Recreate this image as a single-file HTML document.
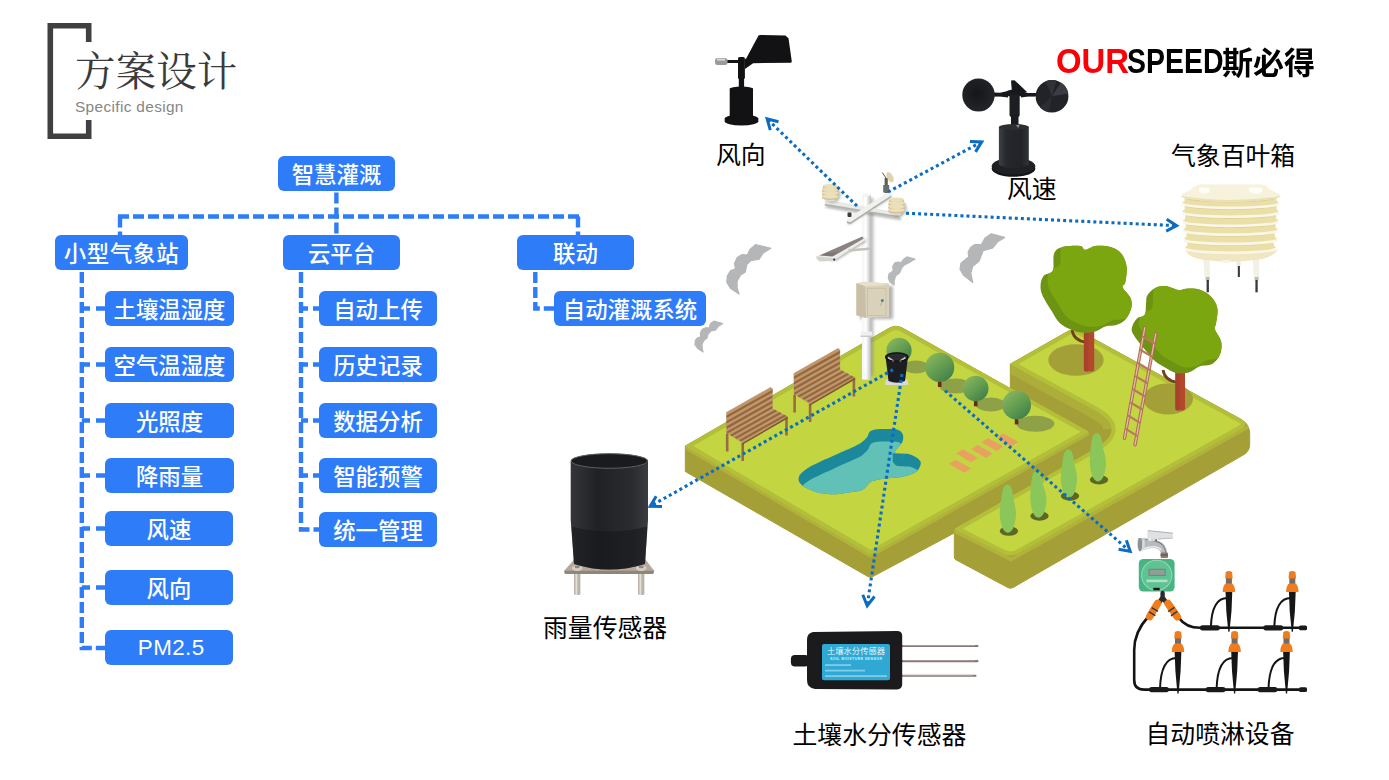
<!DOCTYPE html>
<html lang="zh-CN">
<head>
<meta charset="utf-8">
<title>方案设计</title>
<style>
html,body{margin:0;padding:0;background:#fff;}
body{width:1389px;height:780px;position:relative;overflow:hidden;font-family:"Liberation Sans","Noto Sans CJK SC",sans-serif;}
#art{position:absolute;left:0;top:0;width:1389px;height:780px;}
.bx{position:absolute;height:35px;line-height:40px;background:#2e7cf8;color:#fff;border-radius:6px;text-align:center;font-size:22.4px;font-weight:500;white-space:nowrap;}
.lb{position:absolute;color:#000;font-size:24.85px;line-height:30px;white-space:nowrap;font-weight:400;}
#ttl{position:absolute;left:75px;top:45.6px;font-family:"Liberation Serif","Noto Serif CJK SC",serif;font-size:40.6px;line-height:54px;color:#3a3a3a;font-weight:400;white-space:nowrap;letter-spacing:0px;}
#sub{position:absolute;left:75px;top:97px;letter-spacing:0.35px;font-size:15.4px;line-height:20px;color:#868686;white-space:nowrap;}
.lg{position:absolute;font-size:30px;line-height:40px;font-weight:700;color:#000;white-space:nowrap;transform-origin:0 0;}
</style>
</head>
<body>
<svg id="art" width="1389" height="780" viewBox="0 0 1389 780">
<!-- title bracket -->
<path d="M88.7 42 V25.8 H50.3 V136.2 H88.7 V120" fill="none" stroke="#404040" stroke-width="5.6"/>
<!-- flow-chart connectors -->
<g fill="none" stroke="#2e7cf8" stroke-width="4.4" stroke-dasharray="11 4">
<path d="M336.4 192.5 V235"/>
<path d="M118 216.5 H582"/>
<path d="M120 216.5 V235"/>
<path d="M578 216.5 V235"/>
<path d="M81.8 272 V648 H105"/>
<path d="M301 272 V529.5 H319"/>
<path d="M535.3 272 V308.5 H554"/>
</g>
<g fill="none" stroke="#2e7cf8" stroke-width="4.4">
<path d="M81.8 308.5 H90 M96 308.5 H106"/>
<path d="M81.8 364.5 H90 M96 364.5 H106"/>
<path d="M81.8 420.5 H90 M96 420.5 H106"/>
<path d="M81.8 475.5 H90 M96 475.5 H106"/>
<path d="M81.8 528.5 H90 M96 528.5 H106"/>
<path d="M81.8 587.5 H90 M96 587.5 H106"/>
<path d="M301 308.5 H308 M313 308.5 H320"/>
<path d="M301 364.5 H308 M313 364.5 H320"/>
<path d="M301 420.5 H308 M313 420.5 H320"/>
<path d="M301 475.5 H308 M313 475.5 H320"/>
</g>
<defs>
<linearGradient id="gTree" x1="0.15" y1="0.1" x2="0.85" y2="0.95"><stop offset="0" stop-color="#86b45e"/><stop offset="0.55" stop-color="#5f9a50"/><stop offset="1" stop-color="#3f7d48"/></linearGradient>
<linearGradient id="gCyl" x1="0" y1="0" x2="1" y2="0"><stop offset="0" stop-color="#34363a"/><stop offset="0.35" stop-color="#202124"/><stop offset="0.8" stop-color="#2a2c30"/><stop offset="1" stop-color="#3a3c40"/></linearGradient>
<linearGradient id="gPole" x1="0" y1="0" x2="1" y2="0"><stop offset="0" stop-color="#f4f4f4"/><stop offset="0.45" stop-color="#ffffff"/><stop offset="1" stop-color="#bdbdbd"/></linearGradient>
<linearGradient id="gCloud" x1="0" y1="0" x2="1" y2="0"><stop offset="0" stop-color="#a9abad"/><stop offset="0.6" stop-color="#d4d5d6"/><stop offset="1" stop-color="#ffffff"/></linearGradient>
<linearGradient id="gCream" x1="0" y1="0" x2="1" y2="0"><stop offset="0" stop-color="#f6f0d8"/><stop offset="0.5" stop-color="#efe2b4"/><stop offset="1" stop-color="#f3ebcb"/></linearGradient>
</defs>
<path d="M685.3,446.0 L888.9,328.3 Q895.8,324.3 902.8,328.2 L1010.3,388.5 L1010.3,364.1 L1066.8,331.9 Q1073.7,327.9 1080.7,331.7 L1240.9,419.2 Q1249.7,424.0 1249.7,434.0 L1249.7,444.3 Q1249.7,451.3 1243.6,454.8 L1013.1,587.5 Q1010.5,589.0 1007.9,587.6 L956.1,559.9 Q954.3,559.0 954.3,557.0 L954.3,533.0 L872.9,576.5 Q870.3,577.9 867.7,576.4 L685.3,471.5 Z" fill="#a59f37" stroke="#a59f37" stroke-width="1" stroke-linejoin="round"/>
<clipPath id="cS"><path d="M685.3,446.0 L888.9,328.3 Q895.8,324.3 902.8,328.2 L1010.3,388.5 L1010.3,364.1 L1066.8,331.9 Q1073.7,327.9 1080.7,331.7 L1240.9,419.2 Q1249.7,424.0 1249.7,434.0 L1249.7,444.3 Q1249.7,451.3 1243.6,454.8 L1013.1,587.5 Q1010.5,589.0 1007.9,587.6 L956.1,559.9 Q954.3,559.0 954.3,557.0 L954.3,533.0 L872.9,576.5 Q870.3,577.9 867.7,576.4 L685.3,471.5 Z"/></clipPath><g clip-path="url(#cS)">
<polygon points="685.3,446.0 870.6,554.4 870.6,557.9 685.3,449.5" fill="#b0b23b"/>
<polygon points="870.6,554.4 1088.9,431.8 1088.9,435.3 870.6,557.9" fill="#b0b23b"/>
<polygon points="954.3,529.0 1011.0,557.5 1011.0,561.5 954.3,533.0" fill="#b0b23b"/>
<polygon points="1011.0,557.5 1249.7,424.0 1249.7,428.0 1011.0,561.5" fill="#b0b23b"/>
<path d="M1010.3,364.1 L1094.1,409.8 Q1111.6,419.4 1111.7,429.2" fill="none" stroke="#adad3a" stroke-width="17" stroke-linecap="butt"/>
</g>
<clipPath id="cL"><path d="M1010.3,364.1 L1066.8,331.9 Q1073.7,327.9 1080.7,331.7 L1240.9,419.2 Q1249.7,424.0 1241.0,428.9 L1018.9,553.1 Q1011.0,557.5 1003.0,553.5 L956.1,529.9 Q954.3,529.0 956.0,528.0 L1094.5,448.9 Q1129.2,429.0 1094.1,409.8 Z"/></clipPath>
<path d="M1010.3,364.1 L1066.8,331.9 Q1073.7,327.9 1080.7,331.7 L1240.9,419.2 Q1249.7,424.0 1241.0,428.9 L1018.9,553.1 Q1011.0,557.5 1003.0,553.5 L956.1,529.9 Q954.3,529.0 956.0,528.0 L1094.5,448.9 Q1129.2,429.0 1094.1,409.8 Z" fill="#c3d642" stroke="#b3bf39" stroke-width="8" stroke-linejoin="round" clip-path="url(#cL)"/>
<clipPath id="cM"><path d="M685.3,446.0 L888.9,328.3 Q895.8,324.3 902.8,328.2 L1088.9,431.8 L870.6,554.4 Z"/></clipPath>
<path d="M685.3,446.0 L888.9,328.3 Q895.8,324.3 902.8,328.2 L1088.9,431.8 L870.6,554.4 Z" fill="#c3d642" stroke="#b3bf39" stroke-width="8" stroke-linejoin="round" clip-path="url(#cM)"/>
<clipPath id="cP"><path d="M798.6,479.2 C798.6,477.6 799.0,475.9 800.5,474.1 C802.0,472.3 804.6,470.3 807.6,468.3 C810.6,466.4 814.5,464.5 818.5,462.6 C822.4,460.6 827.0,458.7 831.3,456.8 C835.6,454.9 840.3,452.7 844.1,451.0 C847.9,449.3 851.4,448.0 854.4,446.5 C857.4,445.0 859.9,443.7 862.1,442.1 C864.2,440.4 865.9,438.6 867.2,436.9 C868.5,435.2 868.5,433.0 869.7,431.8 C871.0,430.6 872.1,430.0 874.9,429.5 C877.6,429.0 883.0,429.0 886.4,429.0 C889.8,428.9 893.0,428.9 895.4,429.2 C897.7,429.6 899.2,430.1 900.5,431.2 C901.8,432.2 902.8,433.8 903.1,435.6 C903.4,437.5 903.3,440.0 902.4,442.1 C901.6,444.1 899.2,446.1 897.9,447.8 C896.7,449.5 894.4,451.3 894.7,452.3 C895.1,453.3 897.4,453.3 899.9,453.6 C902.3,453.9 906.6,453.5 909.5,454.2 C912.4,455.0 915.3,456.7 917.2,458.1 C919.1,459.5 920.4,460.9 920.8,462.6 C921.1,464.3 920.1,466.6 919.1,468.3 C918.1,470.0 917.3,471.4 914.6,472.8 C911.9,474.2 906.9,475.8 903.1,476.7 C899.2,477.5 895.4,477.5 891.5,477.9 C887.7,478.4 883.4,478.6 880.0,479.2 C876.6,479.9 873.2,480.7 871.0,481.8 C868.9,482.9 868.7,484.3 867.2,485.6 C865.7,487.0 864.6,489.1 862.1,490.1 C859.5,491.2 855.6,491.4 851.8,492.1 C847.9,492.7 843.0,493.7 839.0,494.0 C834.9,494.3 831.3,494.3 827.4,494.0 C823.6,493.7 819.5,493.1 815.9,492.1 C812.3,491.0 808.2,489.0 805.6,487.6 C803.1,486.2 801.7,485.1 800.5,483.7 C799.3,482.3 798.6,480.8 798.6,479.2Z"/></clipPath>
<path d="M798.6,479.2 C798.6,477.6 799.0,475.9 800.5,474.1 C802.0,472.3 804.6,470.3 807.6,468.3 C810.6,466.4 814.5,464.5 818.5,462.6 C822.4,460.6 827.0,458.7 831.3,456.8 C835.6,454.9 840.3,452.7 844.1,451.0 C847.9,449.3 851.4,448.0 854.4,446.5 C857.4,445.0 859.9,443.7 862.1,442.1 C864.2,440.4 865.9,438.6 867.2,436.9 C868.5,435.2 868.5,433.0 869.7,431.8 C871.0,430.6 872.1,430.0 874.9,429.5 C877.6,429.0 883.0,429.0 886.4,429.0 C889.8,428.9 893.0,428.9 895.4,429.2 C897.7,429.6 899.2,430.1 900.5,431.2 C901.8,432.2 902.8,433.8 903.1,435.6 C903.4,437.5 903.3,440.0 902.4,442.1 C901.6,444.1 899.2,446.1 897.9,447.8 C896.7,449.5 894.4,451.3 894.7,452.3 C895.1,453.3 897.4,453.3 899.9,453.6 C902.3,453.9 906.6,453.5 909.5,454.2 C912.4,455.0 915.3,456.7 917.2,458.1 C919.1,459.5 920.4,460.9 920.8,462.6 C921.1,464.3 920.1,466.6 919.1,468.3 C918.1,470.0 917.3,471.4 914.6,472.8 C911.9,474.2 906.9,475.8 903.1,476.7 C899.2,477.5 895.4,477.5 891.5,477.9 C887.7,478.4 883.4,478.6 880.0,479.2 C876.6,479.9 873.2,480.7 871.0,481.8 C868.9,482.9 868.7,484.3 867.2,485.6 C865.7,487.0 864.6,489.1 862.1,490.1 C859.5,491.2 855.6,491.4 851.8,492.1 C847.9,492.7 843.0,493.7 839.0,494.0 C834.9,494.3 831.3,494.3 827.4,494.0 C823.6,493.7 819.5,493.1 815.9,492.1 C812.3,491.0 808.2,489.0 805.6,487.6 C803.1,486.2 801.7,485.1 800.5,483.7 C799.3,482.3 798.6,480.8 798.6,479.2Z" fill="#1b899b"/>
<g clip-path="url(#cP)"><path d="M798.6,479.2 C798.6,477.6 799.0,475.9 800.5,474.1 C802.0,472.3 804.6,470.3 807.6,468.3 C810.6,466.4 814.5,464.5 818.5,462.6 C822.4,460.6 827.0,458.7 831.3,456.8 C835.6,454.9 840.3,452.7 844.1,451.0 C847.9,449.3 851.4,448.0 854.4,446.5 C857.4,445.0 859.9,443.7 862.1,442.1 C864.2,440.4 865.9,438.6 867.2,436.9 C868.5,435.2 868.5,433.0 869.7,431.8 C871.0,430.6 872.1,430.0 874.9,429.5 C877.6,429.0 883.0,429.0 886.4,429.0 C889.8,428.9 893.0,428.9 895.4,429.2 C897.7,429.6 899.2,430.1 900.5,431.2 C901.8,432.2 902.8,433.8 903.1,435.6 C903.4,437.5 903.3,440.0 902.4,442.1 C901.6,444.1 899.2,446.1 897.9,447.8 C896.7,449.5 894.4,451.3 894.7,452.3 C895.1,453.3 897.4,453.3 899.9,453.6 C902.3,453.9 906.6,453.5 909.5,454.2 C912.4,455.0 915.3,456.7 917.2,458.1 C919.1,459.5 920.4,460.9 920.8,462.6 C921.1,464.3 920.1,466.6 919.1,468.3 C918.1,470.0 917.3,471.4 914.6,472.8 C911.9,474.2 906.9,475.8 903.1,476.7 C899.2,477.5 895.4,477.5 891.5,477.9 C887.7,478.4 883.4,478.6 880.0,479.2 C876.6,479.9 873.2,480.7 871.0,481.8 C868.9,482.9 868.7,484.3 867.2,485.6 C865.7,487.0 864.6,489.1 862.1,490.1 C859.5,491.2 855.6,491.4 851.8,492.1 C847.9,492.7 843.0,493.7 839.0,494.0 C834.9,494.3 831.3,494.3 827.4,494.0 C823.6,493.7 819.5,493.1 815.9,492.1 C812.3,491.0 808.2,489.0 805.6,487.6 C803.1,486.2 801.7,485.1 800.5,483.7 C799.3,482.3 798.6,480.8 798.6,479.2Z" fill="#62c1b6" transform="translate(0.8,12.6)"/><polygon points="892.6,453.3 903.7,454.0 896.0,465.4 892.8,461.9" fill="#1b899b"/></g>
<polygon points="948.8,463.8 955.6,459.7 971.0,468.5 964.4,472.8" fill="#e8a15e"/>
<polygon points="956.2,453.6 962.8,449.3 978.0,457.7 971.0,462.3" fill="#e8a15e"/>
<polygon points="971.0,449.0 977.7,444.9 992.8,453.6 985.9,458.0" fill="#e8a15e"/>
<polygon points="981.3,442.3 988.3,438.2 1003.3,446.4 996.7,451.0" fill="#e8a15e"/>
<polygon points="996.7,437.7 1003.3,433.4 1018.4,442.0 1011.5,446.4" fill="#e8a15e"/>
<ellipse cx="916" cy="367" rx="13" ry="6.5" fill="#8fa146"/>
<ellipse cx="955.4" cy="386" rx="16" ry="7.5" fill="#8fa146"/>
<ellipse cx="990.8" cy="404.6" rx="15" ry="7" fill="#8fa146"/>
<ellipse cx="1035.4" cy="423.8" rx="19" ry="8" fill="#8fa146"/>
<ellipse cx="1076" cy="360" rx="27.7" ry="15.8" fill="#a3a038"/>
<ellipse cx="1168" cy="398.9" rx="25" ry="15.5" fill="#a3a038"/>
<g transform="translate(67.4,-39)"><rect x="725.9000000000001" y="434" width="2.6" height="17.5" fill="#9a6a42"/><rect x="741.4000000000001" y="443" width="2.6" height="18" fill="#9a6a42"/><rect x="785.2" y="417" width="2.6" height="18.5" fill="#9a6a42"/><polygon points="726.2,412.3 770.8,387 772.8,389 772.8,408.5 727.7,433.8 726.2,432" fill="#c0966a"/><polygon points="726.6,415.5 772.4,389.8 772.4,392.4 726.6,418.1" fill="#93683f"/><polygon points="726.6,420.9 772.4,395.2 772.4,397.8 726.6,423.5" fill="#93683f"/><polygon points="726.6,426.3 772.4,400.6 772.4,403.2 726.6,428.9" fill="#93683f"/><polygon points="726.6,431.7 772.4,406.0 772.4,408.6 726.6,434.3" fill="#93683f"/><polygon points="727.7,433.8 772.8,408.5 787.7,416.6 742.3,443" fill="#c0966a"/><polygon points="729.9,435.0 775.0,409.7 777.2,410.9 732.1,436.2" fill="#93683f"/><polygon points="734.5,437.5 779.6,412.2 781.8,413.4 736.7,438.7" fill="#93683f"/><polygon points="739.1,440.0 784.2,414.7 786.4,415.9 741.3,441.2" fill="#93683f"/><polygon points="742.3,443 787.7,416.6 787.7,418.4 742.3,444.8" fill="#7d5533"/></g>
<g transform="translate(0,0)"><rect x="725.9000000000001" y="434" width="2.6" height="17.5" fill="#9a6a42"/><rect x="741.4000000000001" y="443" width="2.6" height="18" fill="#9a6a42"/><rect x="785.2" y="417" width="2.6" height="18.5" fill="#9a6a42"/><polygon points="726.2,412.3 770.8,387 772.8,389 772.8,408.5 727.7,433.8 726.2,432" fill="#c0966a"/><polygon points="726.6,415.5 772.4,389.8 772.4,392.4 726.6,418.1" fill="#93683f"/><polygon points="726.6,420.9 772.4,395.2 772.4,397.8 726.6,423.5" fill="#93683f"/><polygon points="726.6,426.3 772.4,400.6 772.4,403.2 726.6,428.9" fill="#93683f"/><polygon points="726.6,431.7 772.4,406.0 772.4,408.6 726.6,434.3" fill="#93683f"/><polygon points="727.7,433.8 772.8,408.5 787.7,416.6 742.3,443" fill="#c0966a"/><polygon points="729.9,435.0 775.0,409.7 777.2,410.9 732.1,436.2" fill="#93683f"/><polygon points="734.5,437.5 779.6,412.2 781.8,413.4 736.7,438.7" fill="#93683f"/><polygon points="739.1,440.0 784.2,414.7 786.4,415.9 741.3,441.2" fill="#93683f"/><polygon points="742.3,443 787.7,416.6 787.7,418.4 742.3,444.8" fill="#7d5533"/></g>
<circle cx="899" cy="350.4" r="12.6" fill="url(#gTree)"/>
<filter id="fB" x="-30%" y="-30%" width="160%" height="160%"><feGaussianBlur stdDeviation="1.6"/></filter>
<filter id="fB2" x="-30%" y="-30%" width="160%" height="160%"><feGaussianBlur stdDeviation="0.9"/></filter>
<g filter="url(#fB)" opacity="0.55"><rect x="866" y="198" width="7.5" height="178" fill="#8a8a8a"/><rect x="860" y="286" width="33" height="33" fill="#777"/></g>
<rect x="862" y="194.6" width="8.8" height="185" fill="url(#gPole)"/>
<ellipse cx="866.4" cy="194.8" rx="4.4" ry="1.6" fill="#f4f4f4"/>
<rect x="860.6" y="331.5" width="11.6" height="5.5" rx="1.5" fill="#efefef"/><rect x="860.6" y="335.6" width="11.6" height="1.4" fill="#c9c9c9"/>
<polygon points="856.4,283.2 864,281.8 889,283.6 889,316.8 866,318 856.4,315.3" fill="#d9d1ba"/>
<polygon points="856.4,283.2 864,281.8 889,283.6 881,285.6 865,286.2" fill="#e7e0cd"/>
<polygon points="856.4,283.2 865,286.2 866,318 856.4,315.3" fill="#c9bfa6"/>
<rect x="867.5" y="288.3" width="18.5" height="27.2" fill="none" stroke="#c7bea6" stroke-width="0.8"/>
<circle cx="882.3" cy="300.6" r="1.5" fill="#3f86a8"/><path d="M882,302 L880.5,306" stroke="#b9b09a" stroke-width="1"/>
<g filter="url(#fB2)" opacity="0.5"><polygon points="818,259 836,261 866,242 866,239" fill="#777"/></g>
<polygon points="816.3,256.3 863,235.8 866.3,239.6 835.5,259.2 819.5,261.2" fill="#ecece8"/>
<polygon points="819.5,255.6 862.2,236.8 863.6,238.4 832.5,256.6" fill="#7d7673"/>
<polygon points="826,253 862.2,236.8 863.6,238.4 840,252.2" fill="#938c88" opacity="0.6"/>
<polygon points="816.3,256.3 835.2,258.4 835.5,260.6 819.5,261.6 816.3,258.6" fill="#d4d4ce"/>
<circle cx="834.2" cy="259.6" r="1.1" fill="#333"/>
<polygon points="848,249.2 872,247.2 872,249.8 850,251.8" fill="#c4c4bc"/>
<g filter="url(#fB2)" opacity="0.45"><path d="M826,206 L901,218.5 M848,223.5 L891,196" stroke="#666" stroke-width="3.5" fill="none"/></g>
<polygon points="824.8,201.2 827,199.8 902.3,213.2 902.3,216.6 899.5,217.6 824.8,205" fill="#e9e9e5"/>
<polygon points="824.8,203.8 899.5,216.2 899.5,217.8 824.8,205.6" fill="#b2b2ac"/>
<polygon points="847,219 888,192 891.2,193 891.2,195.8 850.5,222.6 847,221.6" fill="#f0f0ec"/>
<polygon points="847,221.2 850.5,222.2 891.2,195.4 891.2,197 850.5,224 847,223" fill="#aeaea8"/>
<g filter="url(#fB2)" opacity="0.4"><ellipse cx="832.3" cy="195" rx="8.5" ry="8" fill="#666"/></g><rect x="825.8" y="197" width="9" height="4.5" fill="#dcdcd6"/><rect x="822.6999999999999" y="186.5" width="15.2" height="11" rx="3" fill="#cdb988"/><ellipse cx="830.3" cy="187.0" rx="7.7" ry="2.6" fill="#d2bf90"/><ellipse cx="830.3" cy="186.1" rx="7.500000000000001" ry="2.1" fill="#ebdfb9"/><ellipse cx="830.3" cy="190.5" rx="8.5" ry="2.6" fill="#d2bf90"/><ellipse cx="830.3" cy="189.6" rx="8.3" ry="2.1" fill="#ebdfb9"/><ellipse cx="830.3" cy="194.0" rx="8.5" ry="2.6" fill="#d2bf90"/><ellipse cx="830.3" cy="193.1" rx="8.3" ry="2.1" fill="#ebdfb9"/><ellipse cx="830.3" cy="197.5" rx="8.5" ry="2.6" fill="#d2bf90"/><ellipse cx="830.3" cy="196.6" rx="8.3" ry="2.1" fill="#ebdfb9"/>
<g filter="url(#fB2)" opacity="0.4"><ellipse cx="898.5" cy="208.5" rx="8.5" ry="8" fill="#666"/></g><rect x="892.0" y="210.5" width="9" height="4.5" fill="#dcdcd6"/><rect x="888.9" y="200.0" width="15.2" height="11" rx="3" fill="#cdb988"/><ellipse cx="896.5" cy="200.5" rx="7.7" ry="2.6" fill="#d2bf90"/><ellipse cx="896.5" cy="199.6" rx="7.500000000000001" ry="2.1" fill="#ebdfb9"/><ellipse cx="896.5" cy="204.0" rx="8.5" ry="2.6" fill="#d2bf90"/><ellipse cx="896.5" cy="203.1" rx="8.3" ry="2.1" fill="#ebdfb9"/><ellipse cx="896.5" cy="207.5" rx="8.5" ry="2.6" fill="#d2bf90"/><ellipse cx="896.5" cy="206.6" rx="8.3" ry="2.1" fill="#ebdfb9"/><ellipse cx="896.5" cy="211.0" rx="8.5" ry="2.6" fill="#d2bf90"/><ellipse cx="896.5" cy="210.1" rx="8.3" ry="2.1" fill="#ebdfb9"/>
<rect x="884.6" y="178" width="3.2" height="15" fill="#5b5f58"/><rect x="883.2" y="185" width="6" height="7.5" fill="#6a6e66"/>
<ellipse cx="890" cy="177.2" rx="3" ry="5.6" transform="rotate(-28 890 177.2)" fill="#e0d2ac"/>
<path d="M882.3 172.5 L887 179.5" stroke="#555" stroke-width="1"/>
<rect x="847.5" y="212.5" width="4" height="4.5" rx="1" fill="#3c3c3c"/>
<g transform="translate(0,1)">
<polygon points="886,378.5 907.5,378.5 908.5,384 885,384" fill="#d9d9dc"/>
<path d="M885.6,356 L888.5,380 Q897,383.5 905,380 L908,356 Z" fill="#1d1e21"/>
<ellipse cx="896.8" cy="356" rx="11.2" ry="4.2" fill="#2a2b2f"/>
<path d="M888,356.5 L894,360.5 M905.5,356.5 L899.5,360.5" stroke="#c9c9cc" stroke-width="1.6"/>
<ellipse cx="896.8" cy="356" rx="11.2" ry="4.2" fill="none" stroke="#0e0e10" stroke-width="1.2"/>
</g>
<rect x="937.9000000000001" y="380.0" width="3.6" height="7" fill="#6b2812"/><circle cx="939.7" cy="367.4" r="14.6" fill="url(#gTree)"/>
<rect x="973.9000000000001" y="399.3" width="3.6" height="7" fill="#6b2812"/><circle cx="975.7" cy="388.5" r="12.8" fill="url(#gTree)"/>
<rect x="1014.8000000000001" y="417.4" width="3.6" height="7" fill="#6b2812"/><circle cx="1016.6" cy="405" r="14.4" fill="url(#gTree)"/>
<path d="M1072,330 Q1074,341 1086,342" fill="none" stroke="#74401c" stroke-width="2.8"/><rect x="1083.9" y="325" width="10.3" height="46.6" rx="2" fill="#b3482b"/><rect x="1083.9" y="325" width="4.6" height="46.6" rx="2" fill="#a8422a"/><path d="M1054.0,253.7 C1055.6,249.8 1057.5,248.5 1061.8,247.2 C1066.1,245.9 1076.1,245.5 1080.0,245.9 C1083.9,246.4 1082.6,249.8 1085.2,249.8 C1087.7,249.8 1091.2,246.4 1095.5,245.9 C1099.8,245.5 1106.8,245.9 1111.1,247.2 C1115.4,248.5 1118.8,250.5 1121.4,253.7 C1124.0,256.9 1126.0,261.9 1126.6,266.7 C1127.3,271.4 1126.0,278.8 1125.3,282.2 C1124.7,285.7 1121.9,284.8 1122.7,287.4 C1123.6,290.0 1129.1,294.3 1130.5,297.8 C1131.9,301.2 1132.2,304.5 1131.3,308.1 C1130.4,311.8 1127.8,317.0 1125.3,319.8 C1122.8,322.6 1119.5,323.9 1116.3,325.0 C1113.0,326.1 1109.3,325.2 1105.9,326.3 C1102.4,327.4 1099.4,330.4 1095.5,331.5 C1091.6,332.5 1086.9,333.2 1082.6,332.8 C1078.2,332.3 1073.5,330.6 1069.6,328.9 C1065.7,327.1 1062.3,325.4 1059.2,322.4 C1056.2,319.4 1054.3,315.3 1051.5,310.7 C1048.6,306.2 1044.2,299.5 1042.4,295.2 C1040.6,290.8 1040.4,288.0 1040.6,284.8 C1040.8,281.6 1041.7,278.1 1043.7,275.7 C1045.7,273.4 1051.0,274.2 1052.8,270.5 C1054.5,266.9 1052.5,257.6 1054.0,253.7Z" fill="#6c9412"/><clipPath id="c812"><path d="M1054.0,253.7 C1055.6,249.8 1057.5,248.5 1061.8,247.2 C1066.1,245.9 1076.1,245.5 1080.0,245.9 C1083.9,246.4 1082.6,249.8 1085.2,249.8 C1087.7,249.8 1091.2,246.4 1095.5,245.9 C1099.8,245.5 1106.8,245.9 1111.1,247.2 C1115.4,248.5 1118.8,250.5 1121.4,253.7 C1124.0,256.9 1126.0,261.9 1126.6,266.7 C1127.3,271.4 1126.0,278.8 1125.3,282.2 C1124.7,285.7 1121.9,284.8 1122.7,287.4 C1123.6,290.0 1129.1,294.3 1130.5,297.8 C1131.9,301.2 1132.2,304.5 1131.3,308.1 C1130.4,311.8 1127.8,317.0 1125.3,319.8 C1122.8,322.6 1119.5,323.9 1116.3,325.0 C1113.0,326.1 1109.3,325.2 1105.9,326.3 C1102.4,327.4 1099.4,330.4 1095.5,331.5 C1091.6,332.5 1086.9,333.2 1082.6,332.8 C1078.2,332.3 1073.5,330.6 1069.6,328.9 C1065.7,327.1 1062.3,325.4 1059.2,322.4 C1056.2,319.4 1054.3,315.3 1051.5,310.7 C1048.6,306.2 1044.2,299.5 1042.4,295.2 C1040.6,290.8 1040.4,288.0 1040.6,284.8 C1040.8,281.6 1041.7,278.1 1043.7,275.7 C1045.7,273.4 1051.0,274.2 1052.8,270.5 C1054.5,266.9 1052.5,257.6 1054.0,253.7Z"/></clipPath><g clip-path="url(#c812)"><path d="M1054.0,253.7 C1055.6,249.8 1057.5,248.5 1061.8,247.2 C1066.1,245.9 1076.1,245.5 1080.0,245.9 C1083.9,246.4 1082.6,249.8 1085.2,249.8 C1087.7,249.8 1091.2,246.4 1095.5,245.9 C1099.8,245.5 1106.8,245.9 1111.1,247.2 C1115.4,248.5 1118.8,250.5 1121.4,253.7 C1124.0,256.9 1126.0,261.9 1126.6,266.7 C1127.3,271.4 1126.0,278.8 1125.3,282.2 C1124.7,285.7 1121.9,284.8 1122.7,287.4 C1123.6,290.0 1129.1,294.3 1130.5,297.8 C1131.9,301.2 1132.2,304.5 1131.3,308.1 C1130.4,311.8 1127.8,317.0 1125.3,319.8 C1122.8,322.6 1119.5,323.9 1116.3,325.0 C1113.0,326.1 1109.3,325.2 1105.9,326.3 C1102.4,327.4 1099.4,330.4 1095.5,331.5 C1091.6,332.5 1086.9,333.2 1082.6,332.8 C1078.2,332.3 1073.5,330.6 1069.6,328.9 C1065.7,327.1 1062.3,325.4 1059.2,322.4 C1056.2,319.4 1054.3,315.3 1051.5,310.7 C1048.6,306.2 1044.2,299.5 1042.4,295.2 C1040.6,290.8 1040.4,288.0 1040.6,284.8 C1040.8,281.6 1041.7,278.1 1043.7,275.7 C1045.7,273.4 1051.0,274.2 1052.8,270.5 C1054.5,266.9 1052.5,257.6 1054.0,253.7Z" fill="#7ba60f" transform="translate(7,-6)"/></g>
<path d="M1163,370 Q1165,381 1177,382" fill="none" stroke="#74401c" stroke-width="2.8"/><rect x="1175.4" y="365" width="9.6" height="45.5" rx="2" fill="#b3482b"/><rect x="1175.4" y="365" width="4.3" height="45.5" rx="2" fill="#a8422a"/><path d="M1147.4,295.2 C1148.9,292.7 1152.1,289.4 1155.1,287.9 C1158.2,286.4 1161.6,285.8 1165.5,286.1 C1169.4,286.4 1175.0,289.6 1178.5,290.0 C1181.9,290.4 1182.8,288.8 1186.2,288.7 C1189.7,288.6 1195.1,288.2 1199.2,289.5 C1203.3,290.8 1207.8,293.4 1210.9,296.5 C1213.9,299.6 1216.5,303.6 1217.3,308.1 C1218.2,312.7 1216.5,320.2 1216.0,323.7 C1215.6,327.1 1213.9,325.8 1214.8,328.9 C1215.6,331.9 1220.4,337.5 1221.2,341.8 C1222.1,346.1 1221.4,351.1 1219.9,354.8 C1218.4,358.5 1215.6,361.9 1212.2,363.9 C1208.7,365.8 1203.1,365.0 1199.2,366.4 C1195.3,367.9 1192.7,371.3 1188.8,372.4 C1184.9,373.5 1179.8,373.7 1175.9,372.9 C1172.0,372.2 1169.0,369.7 1165.5,367.7 C1162.0,365.8 1158.6,364.3 1155.1,361.3 C1151.7,358.2 1148.4,354.1 1144.8,349.6 C1141.1,345.1 1135.2,337.9 1133.1,334.0 C1131.0,330.2 1131.7,328.9 1132.3,326.3 C1133.0,323.7 1134.9,320.4 1137.0,318.5 C1139.1,316.6 1143.3,317.2 1144.8,314.6 C1146.3,312.0 1145.6,306.2 1146.1,302.9 C1146.5,299.7 1145.8,297.7 1147.4,295.2Z" fill="#6c9412"/><clipPath id="c6014"><path d="M1147.4,295.2 C1148.9,292.7 1152.1,289.4 1155.1,287.9 C1158.2,286.4 1161.6,285.8 1165.5,286.1 C1169.4,286.4 1175.0,289.6 1178.5,290.0 C1181.9,290.4 1182.8,288.8 1186.2,288.7 C1189.7,288.6 1195.1,288.2 1199.2,289.5 C1203.3,290.8 1207.8,293.4 1210.9,296.5 C1213.9,299.6 1216.5,303.6 1217.3,308.1 C1218.2,312.7 1216.5,320.2 1216.0,323.7 C1215.6,327.1 1213.9,325.8 1214.8,328.9 C1215.6,331.9 1220.4,337.5 1221.2,341.8 C1222.1,346.1 1221.4,351.1 1219.9,354.8 C1218.4,358.5 1215.6,361.9 1212.2,363.9 C1208.7,365.8 1203.1,365.0 1199.2,366.4 C1195.3,367.9 1192.7,371.3 1188.8,372.4 C1184.9,373.5 1179.8,373.7 1175.9,372.9 C1172.0,372.2 1169.0,369.7 1165.5,367.7 C1162.0,365.8 1158.6,364.3 1155.1,361.3 C1151.7,358.2 1148.4,354.1 1144.8,349.6 C1141.1,345.1 1135.2,337.9 1133.1,334.0 C1131.0,330.2 1131.7,328.9 1132.3,326.3 C1133.0,323.7 1134.9,320.4 1137.0,318.5 C1139.1,316.6 1143.3,317.2 1144.8,314.6 C1146.3,312.0 1145.6,306.2 1146.1,302.9 C1146.5,299.7 1145.8,297.7 1147.4,295.2Z"/></clipPath><g clip-path="url(#c6014)"><path d="M1147.4,295.2 C1148.9,292.7 1152.1,289.4 1155.1,287.9 C1158.2,286.4 1161.6,285.8 1165.5,286.1 C1169.4,286.4 1175.0,289.6 1178.5,290.0 C1181.9,290.4 1182.8,288.8 1186.2,288.7 C1189.7,288.6 1195.1,288.2 1199.2,289.5 C1203.3,290.8 1207.8,293.4 1210.9,296.5 C1213.9,299.6 1216.5,303.6 1217.3,308.1 C1218.2,312.7 1216.5,320.2 1216.0,323.7 C1215.6,327.1 1213.9,325.8 1214.8,328.9 C1215.6,331.9 1220.4,337.5 1221.2,341.8 C1222.1,346.1 1221.4,351.1 1219.9,354.8 C1218.4,358.5 1215.6,361.9 1212.2,363.9 C1208.7,365.8 1203.1,365.0 1199.2,366.4 C1195.3,367.9 1192.7,371.3 1188.8,372.4 C1184.9,373.5 1179.8,373.7 1175.9,372.9 C1172.0,372.2 1169.0,369.7 1165.5,367.7 C1162.0,365.8 1158.6,364.3 1155.1,361.3 C1151.7,358.2 1148.4,354.1 1144.8,349.6 C1141.1,345.1 1135.2,337.9 1133.1,334.0 C1131.0,330.2 1131.7,328.9 1132.3,326.3 C1133.0,323.7 1134.9,320.4 1137.0,318.5 C1139.1,316.6 1143.3,317.2 1144.8,314.6 C1146.3,312.0 1145.6,306.2 1146.1,302.9 C1146.5,299.7 1145.8,297.7 1147.4,295.2Z" fill="#7ba60f" transform="translate(7,-6)"/></g>
<g stroke-linecap="round"><path d="M1144.8,327.6 L1124.5,438.3 M1155.7,334 L1135,444.8" stroke="#ad6c55" stroke-width="3.4"/><path d="M1144.8,327.6 L1124.5,438.3 M1155.7,334 L1135,444.8" stroke="#e8bca6" stroke-width="1.3"/>
<path d="M1143.1,336.8 L1154.0,343.2" stroke="#b97860" stroke-width="2.2"/>
<path d="M1140.7,350.0 L1151.5,356.4" stroke="#b97860" stroke-width="2.2"/>
<path d="M1138.3,363.2 L1149.0,369.6" stroke="#b97860" stroke-width="2.2"/>
<path d="M1135.9,376.4 L1146.6,382.8" stroke="#b97860" stroke-width="2.2"/>
<path d="M1133.4,389.5 L1144.1,396.0" stroke="#b97860" stroke-width="2.2"/>
<path d="M1131.0,402.7 L1141.7,409.2" stroke="#b97860" stroke-width="2.2"/>
<path d="M1128.6,415.9 L1139.2,422.4" stroke="#b97860" stroke-width="2.2"/>
<path d="M1126.2,429.1 L1136.7,435.6" stroke="#b97860" stroke-width="2.2"/>
</g>
<ellipse cx="1099" cy="479.8" rx="9.2" ry="4.7" fill="#5e6625"/><path d="M1096.8,433.2 C1101.0,433.2 1102.0,439.7 1102.8,447.7 C1106.3,457.7 1106.8999999999999,463.8 1104.8999999999999,471.8 C1103.7,477.3 1101.5,481.40000000000003 1098,481.40000000000003 C1094.5,481.40000000000003 1092.3,477.3 1091.1000000000001,471.8 C1089.1000000000001,463.8 1089.7,457.7 1090.8,447.7 C1091.6,439.7 1092.6,433.2 1096.8,433.2Z" fill="#8bc65a"/>
<ellipse cx="1070" cy="496" rx="9.2" ry="4.7" fill="#5e6625"/><path d="M1068.3,449.5 C1072.5,449.5 1073.5,456 1074.3,464 C1077.3,474 1077.8999999999999,480 1075.8999999999999,488 C1074.7,493.5 1072.5,497.6 1069,497.6 C1065.5,497.6 1063.3,493.5 1062.1000000000001,488 C1060.1000000000001,480 1060.7,474 1062.3,464 C1063.1,456 1064.1,449.5 1068.3,449.5Z" fill="#8bc65a"/>
<ellipse cx="1039.5" cy="516" rx="9.2" ry="4.7" fill="#5e6625"/><path d="M1037,470.2 C1041.2,470.2 1042.2,476.7 1043,484.7 C1046.8,494.7 1047.3999999999999,500 1045.3999999999999,508 C1044.2,513.5 1042.0,517.6 1038.5,517.6 C1035.0,517.6 1032.8,513.5 1031.6000000000001,508 C1029.6000000000001,500 1030.2,494.7 1031,484.7 C1031.8,476.7 1032.8,470.2 1037,470.2Z" fill="#8bc65a"/>
<ellipse cx="1008.9" cy="531.1" rx="9.2" ry="4.7" fill="#5e6625"/><path d="M1007.4,484.5 C1011.6,484.5 1012.6,491 1013.4,499 C1016.1999999999999,509 1016.8,515.1 1014.8,523.1 C1013.5999999999999,528.6 1011.4,532.7 1007.9,532.7 C1004.4,532.7 1002.2,528.6 1001.0,523.1 C999.0,515.1 999.6,509 1001.4,499 C1002.1999999999999,491 1003.1999999999999,484.5 1007.4,484.5Z" fill="#8bc65a"/>
<polygon points="755.5,244.7 770.9,248.3 763.2,252.9 759.1,259.1 750.9,260.6 746.8,264.7 745.3,271.9 740.6,275.0 737.1,281.2 737.1,288.3 739.1,294.0 730.4,288.3 726.8,282.2 727.3,276.0 730.4,270.9 735.5,268.8 734.5,263.7 737.1,257.6 742.2,254.5 747.3,255.0 749.9,249.4" fill="#b4b6b7" stroke="#b4b6b7" stroke-width="1.2" stroke-linejoin="round"/>
<polygon points="906.9,256.9 915.1,259.0 910.0,262.1 904.9,264.6 901.8,267.7 899.7,272.8 895.6,275.9 894.1,281.0 894.1,285.1 890.0,282.1 888.3,277.9 889.0,273.8 892.1,271.8 893.1,270.8 892.8,266.2 895.1,262.6 899.2,262.1 900.8,263.1 903.8,259.0" fill="#b6b9ba" stroke="#b6b9ba" stroke-width="1.2" stroke-linejoin="round"/>
<polygon points="991.3,233.8 1004.6,237.4 997.4,242.1 992.8,247.9 983.1,250.8 979.0,261.2 972.8,266.2 970.8,273.3 972.8,282.6 963.6,275.4 960.0,269.2 961.0,263.1 967.2,257.9 968.7,257.4 968.2,251.8 970.8,247.2 974.9,244.6 981.5,244.6 985.1,237.9" fill="#b4b6b7" stroke="#b4b6b7" stroke-width="1.2" stroke-linejoin="round"/>
<polygon points="713.8,321.2 722.7,323.5 718.1,326.5 715.8,330.0 711.2,330.8 708.1,333.8 706.9,338.1 703.8,340.4 701.9,344.6 702.3,349.2 703.1,351.9 697.7,348.5 695.0,344.6 695.4,340.4 697.3,338.1 700.8,336.9 700.4,333.1 702.3,329.2 705.8,327.7 709.2,328.1 710.4,323.8" fill="#b4b6b7" stroke="#b4b6b7" stroke-width="1.2" stroke-linejoin="round"/>
<g fill="#121214">
<polygon points="758.5,35.4 760,34.9 785.4,35.6 788.5,38.2 791.8,61.5 791.1,62.8 753.1,63.2 744.9,68.9 744.9,59.2 746.2,58.5"/>
<rect x="738" y="56.9" width="6.9" height="22" rx="1.5"/><rect x="738.8" y="76" width="5.3" height="13"/>
<rect x="724" y="60" width="15" height="3"/>
<rect x="729.7" y="88.5" width="23.3" height="31"/>
<ellipse cx="741.4" cy="88.7" rx="11.65" ry="2.2"/>
<ellipse cx="741.5" cy="119" rx="17" ry="4.6"/><ellipse cx="741.5" cy="121" rx="17" ry="4.6"/>
</g>
<rect x="715" y="58" width="12.5" height="7" rx="2.5" fill="#9b9b98"/><rect x="717" y="58.6" width="8" height="2" fill="#d8d8d4"/>
<linearGradient id="gBody" x1="0" y1="0" x2="1" y2="0"><stop offset="0" stop-color="#3d4047"/><stop offset="0.25" stop-color="#26282d"/><stop offset="0.75" stop-color="#212327"/><stop offset="1" stop-color="#30333a"/></linearGradient>
<radialGradient id="gCupL" cx="0.45" cy="0.45" r="0.6"><stop offset="0" stop-color="#151618"/><stop offset="1" stop-color="#24262b"/></radialGradient>
<g fill="#17181b">
<polygon points="1011,80.5 1014.5,80.2 1027,92 1012,93"/>
<rect x="994" y="93" width="42" height="3.2"/>
<path d="M994,92.5 L1000,92.8 L1008,91 L1008,97.5 L1000,96.6 L994,96.5Z M1035,93 L1028,93 L1021,91 L1021,97.5 L1028,96.4 L1035,96.6Z"/>
<rect x="1009.5" y="90" width="10.2" height="27" rx="2" fill="#1d1e22"/><rect x="1011" y="115" width="7.5" height="12" fill="#1a1b1e"/>
<ellipse cx="1014.5" cy="92" rx="8" ry="2.6"/>
</g>
<ellipse cx="978.5" cy="95" rx="16.2" ry="16.5" fill="url(#gCupL)"/>
<ellipse cx="1052" cy="96.2" rx="16.4" ry="16.3" fill="#222328"/>
<path d="M1052,96.2 L1068.3,93.5 A16.4,16.3 0 0 0 1061,82.6Z" fill="#3a3c42"/><path d="M1052,96.2 L1045.5,81.3 A16.4,16.3 0 0 1 1056.5,80.5Z" fill="#303237"/><path d="M1052,96.2 L1040,107.3 A16.4,16.3 0 0 0 1049,112.2Z" fill="#2b2d32"/>
<ellipse cx="1013.5" cy="168.6" rx="21.8" ry="8.2" fill="#131417"/>
<ellipse cx="1013.5" cy="166.2" rx="21.8" ry="8.4" fill="#1e2024"/>
<path d="M998.9,127 L998.9,165 Q1013.8,172 1028.8,165 L1028.8,127 Z" fill="url(#gBody)"/>
<ellipse cx="1013.85" cy="127" rx="14.95" ry="3" fill="#2c2e34"/>
<path d="M1016,125 l2.2,3 l1.4,-3z" fill="#8e9096"/>
<polygon points="1203,256 1209.2,256 1210.2,277.6 1204.6,277.6" fill="#f3f0e4"/><polygon points="1252.6,256 1259,256 1259.4,277.6 1253.8,277.6" fill="#f3f0e4"/>
<rect x="1205.6" y="277" width="4" height="3.4" fill="#b9bbbd"/><rect x="1254.6" y="277" width="4" height="3.4" fill="#b9bbbd"/>
<rect x="1206.6" y="280" width="2.3" height="12.3" fill="#3a3a3a"/><rect x="1255.4" y="280" width="2.3" height="12.3" fill="#3a3a3a"/>
<rect x="1236.6" y="256" width="4" height="10.5" fill="#efebdc"/><rect x="1237.8" y="266" width="2.1" height="11" fill="#3a3a3a"/>
<path d="M1185.5,249 Q1187,258 1205,260 Q1230.6,263.5 1256,260 Q1274,258 1277.6,249 Z" fill="#f0e7c2"/>
<ellipse cx="1226" cy="261.5" rx="4.5" ry="1.4" fill="#f7f3e4"/>
<ellipse cx="1230.6" cy="249.5" rx="46.4" ry="4.6" fill="#faf7e8"/>
<ellipse cx="1230.6" cy="247.2" rx="45.4" ry="4.2" fill="#ebdfa8"/>
<rect x="1187.4" y="240.7" width="86.4" height="6.5" fill="#ebdfa8"/>
<ellipse cx="1230.6" cy="241.9" rx="43.0" ry="4.2" fill="#e0d196"/>
<ellipse cx="1230.6" cy="240.7" rx="47.4" ry="4.6" fill="#faf7e8"/>
<ellipse cx="1230.6" cy="238.39999999999998" rx="46.4" ry="4.2" fill="#ebdfa8"/>
<rect x="1186.4" y="231.4" width="88.4" height="7.0" fill="#ebdfa8"/>
<ellipse cx="1230.6" cy="232.6" rx="44.0" ry="4.2" fill="#e0d196"/>
<ellipse cx="1230.6" cy="231.4" rx="48.2" ry="4.6" fill="#faf7e8"/>
<ellipse cx="1230.6" cy="229.1" rx="47.2" ry="4.2" fill="#ebdfa8"/>
<rect x="1185.6" y="222.6" width="90.0" height="6.5" fill="#ebdfa8"/>
<ellipse cx="1230.6" cy="223.8" rx="44.800000000000004" ry="4.2" fill="#e0d196"/>
<ellipse cx="1230.6" cy="222.6" rx="48.8" ry="4.6" fill="#faf7e8"/>
<ellipse cx="1230.6" cy="220.29999999999998" rx="47.8" ry="4.2" fill="#ebdfa8"/>
<rect x="1185.0" y="213.5" width="91.2" height="6.8" fill="#ebdfa8"/>
<ellipse cx="1230.6" cy="214.7" rx="45.4" ry="4.2" fill="#e0d196"/>
<ellipse cx="1230.6" cy="213.5" rx="49.2" ry="4.6" fill="#faf7e8"/>
<ellipse cx="1230.6" cy="211.2" rx="48.2" ry="4.2" fill="#ebdfa8"/>
<rect x="1184.6" y="204.6" width="92.0" height="6.6" fill="#ebdfa8"/>
<ellipse cx="1230.6" cy="205.8" rx="45.800000000000004" ry="4.2" fill="#e0d196"/>
<ellipse cx="1230.6" cy="204.6" rx="49.2" ry="4.6" fill="#faf7e8"/>
<ellipse cx="1230.6" cy="202.29999999999998" rx="48.2" ry="4.2" fill="#ebdfa8"/>
<rect x="1184.6" y="197.0" width="92.0" height="5.3" fill="#ebdfa8"/>
<ellipse cx="1230.6" cy="198.2" rx="45.800000000000004" ry="4.2" fill="#e0d196"/>
<path d="M1181,195.6 Q1181.5,193.8 1186,192 Q1191,190 1194.5,186.2 Q1196,184.6 1200,184.4 L1261,184.4 Q1265,184.6 1266.5,186.2 Q1270,190 1275,192 Q1279.8,193.8 1280.6,195.6 Q1280.6,197.4 1276,198.4 Q1230.6,205.6 1185.5,198.4 Q1181,197.4 1181,195.6Z" fill="#f6f2dc"/>
<path d="M1181.2,196 Q1230.6,204 1280.4,196 Q1280.6,197.4 1276,198.4 Q1230.6,205.6 1185.5,198.4 Q1181,197.4 1181.2,196Z" fill="#e9e0b8"/>
<path d="M1200,187.2 Q1196,191.5 1203,193.6 Q1212,194 1209,188 Z" fill="#fffef8" opacity="0.9"/><path d="M1250,187 Q1246,193 1256,194 Q1264,193 1262,188Z" fill="#fffef8" opacity="0.9"/>
<rect x="574" y="566" width="6.4" height="29" rx="1.5" fill="#bdb5ab"/><rect x="638" y="566" width="6.4" height="29" rx="1.5" fill="#bdb5ab"/>
<rect x="575.5" y="566" width="1.8" height="29" fill="#e4dfd8"/><rect x="639.5" y="566" width="1.8" height="29" fill="#e4dfd8"/>
<polygon points="564.2,570.8 574.6,559 645,559 654.2,570.8 653,574 565,574" fill="#b4a99a"/>
<polygon points="564.2,570.8 654.2,570.8 653,574 565,574" fill="#8f857a"/>
<ellipse cx="577.2" cy="568" rx="5.4" ry="3" fill="#d4cec6"/><ellipse cx="641.2" cy="568" rx="5.4" ry="3" fill="#d4cec6"/><ellipse cx="577.2" cy="566.8" rx="2.6" ry="1.5" fill="#8e877e"/><ellipse cx="641.2" cy="566.8" rx="2.6" ry="1.5" fill="#8e877e"/>
<path d="M570.7,461 L570.7,520 L574,564 Q609,575 645,564 L648,520 L648,461 Z" fill="url(#gCyl)"/>
<path d="M571.5,526.5 Q609,536.5 647.3,526.5 L645,564 Q609,575 574,564 Z" fill="#141517" opacity="0.55"/>
<ellipse cx="609.35" cy="461" rx="38.65" ry="7.6" fill="#1a1b1e"/>
<ellipse cx="609.35" cy="461" rx="38.2" ry="7.3" fill="none" stroke="#5e6166" stroke-width="1"/>
<rect x="790.9" y="655" width="18" height="11.5" rx="4" fill="#1a1a1c"/>
<g stroke="#857573" stroke-width="2.1" stroke-linecap="round"><path d="M901,646 H977.5 M901,661.1 H977.5 M901,675.8 H975.5"/></g>
<g stroke="#c9bcb8" stroke-width="0.6"><path d="M903,645.6 H975 M903,660.7 H975 M903,675.4 H973"/></g>
<path d="M813,632 L897,631 Q902.2,631 902.2,636 L902.2,684 Q902.2,689.4 897,689.4 L815,689 Q807,688 807,680 L807,640 Q807,633 813,632Z" fill="#1b1b1d"/>
<rect x="822" y="644" width="68" height="36.3" rx="2" fill="#2fa8d3"/>
<text x="856" y="654.3" text-anchor="middle" font-family="Liberation Sans, Noto Sans CJK SC, sans-serif" font-size="8.3" fill="#eaf6fb">土壤水分传感器</text>
<text x="856" y="660.3" text-anchor="middle" font-family="Liberation Sans, sans-serif" font-size="3.6" font-weight="700" fill="#d6eef8" textLength="52">SOIL MOISTURE SENSOR</text>
<g fill="#c9e9f5" opacity="0.55"><rect x="825" y="664.2" width="26" height="1.8"/><rect x="825" y="669.7" width="40" height="1.8"/><rect x="825" y="675.2" width="62" height="1.8"/></g>
<g fill="none" stroke="#141414" stroke-width="2.6" stroke-linecap="round">
<path d="M1148,617 Q1134.2,632 1134.2,650 V680 Q1134.2,689.6 1144,689.6 H1305"/>
<path d="M1179,618 Q1186,627.8 1200,627.8 H1305"/>
</g>
<g><path d="M1138,538 Q1136.8,545 1139.5,551.5 L1147,548.8 Q1157,546.4 1160,551 Q1161.8,554 1162,557.5 L1167.6,557.5 Q1167.6,548 1163,543.5 Q1158,539.5 1150,540 L1146,538.3 Z" fill="#b7babe"/><path d="M1141,549.8 L1147,547.6 Q1157.5,545 1161.2,550" fill="none" stroke="#e8eaec" stroke-width="1.6"/><path d="M1146,539.6 Q1158,540 1163,545.5 Q1166,549.5 1166.2,556" fill="none" stroke="#7c7f84" stroke-width="1.1"/><ellipse cx="1140" cy="544.7" rx="2.3" ry="6.6" fill="#8d9095"/><ellipse cx="1143.4" cy="544.2" rx="1.3" ry="5.6" fill="#d9dbdd"/><rect x="1147.6" y="531" width="9.6" height="10" fill="#d2d4d7"/><rect x="1155.4" y="532" width="1.5" height="9" fill="#4d5055"/><rect x="1149" y="531.5" width="2" height="9" fill="#f2f3f4"/><polygon points="1147.8,530.4 1172.9,533 1172.9,538.3 1157.5,539.4 1147.8,538" fill="#dfe1e3"/><path d="M1147.8,530.6 L1172.9,533.2" stroke="#a9acb0" stroke-width="0.9"/><path d="M1158,539 L1172.9,538" stroke="#b4b7ba" stroke-width="0.9"/><rect x="1160.6" y="552.6" width="7.4" height="5.4" rx="1" fill="#8f7a70"/><rect x="1160.6" y="554.4" width="7.4" height="1.2" fill="#5f5550"/></g>
<rect x="1138.8" y="559" width="35.8" height="32.5" rx="4.5" fill="#47b482"/>
<circle cx="1156.7" cy="575.3" r="15.6" fill="#dff3e8" opacity="0.55"/><circle cx="1156.7" cy="575.3" r="14.6" fill="#5cc391"/>
<rect x="1148.4" y="568.7" width="17.4" height="7.4" rx="1" fill="#74877e"/><rect x="1149.6" y="569.9" width="15" height="5" fill="#8f9f97"/>
<rect x="1146.5" y="579.6" width="21" height="2.6" fill="#c9eadb" opacity="0.75"/><rect x="1153.3" y="587.8" width="6.4" height="2.6" fill="#1a1a1a"/>
<g stroke-linecap="round" fill="none"><path d="M1162.6,593 V599 M1162.2,598 L1159,603 M1163,598 L1166.5,603" stroke="#2b2b2b" stroke-width="4.4"/><path d="M1157.6,603.5 L1149.6,616.6" stroke="#f07c1c" stroke-width="7.4"/><path d="M1168,603.5 L1177.4,616.8" stroke="#f07c1c" stroke-width="7.4"/><path d="M1151.6,607.6 L1158,611.4 M1149,611.8 L1155.4,615.6" stroke="#3a3a3a" stroke-width="1.5" stroke-linecap="butt"/><path d="M1174.4,607.4 L1168.2,611.6 M1177.2,611.4 L1171,615.8" stroke="#3a3a3a" stroke-width="1.5" stroke-linecap="butt"/></g>
<path d="M1227.4,598 Q1211.9,598 1210.9,626.8" fill="none" stroke="#141414" stroke-width="2"/><rect x="1199.9" y="625.1999999999999" width="20" height="5.2" rx="2.6" fill="#1a1a1a"/><polygon points="1225.5,591 1232.3000000000002,591 1231.5,611 1229.5,631.8 1228.3000000000002,631.8 1226.3000000000002,611" fill="#161616"/><path d="M1222.7,592 Q1222.7,585 1226.4,583 L1231.4,583 Q1235.1000000000001,585 1235.1000000000001,592 Z" fill="#f07c1c"/><rect x="1225.9" y="578" width="6" height="5.5" fill="#6d6d6d"/><path d="M1225.1000000000001,578.5 L1225.7,572 Q1228.9,570 1232.1000000000001,572 L1232.7,578.5Z" fill="#f07c1c"/>
<path d="M1290.8,598 Q1275.3,598 1274.3,626.8" fill="none" stroke="#141414" stroke-width="2"/><rect x="1263.3" y="625.1999999999999" width="20" height="5.2" rx="2.6" fill="#1a1a1a"/><polygon points="1288.8999999999999,591 1295.7,591 1294.8999999999999,611 1292.8999999999999,631.8 1291.7,631.8 1289.7,611" fill="#161616"/><path d="M1286.1,592 Q1286.1,585 1289.8,583 L1294.8,583 Q1298.5,585 1298.5,592 Z" fill="#f07c1c"/><rect x="1289.3" y="578" width="6" height="5.5" fill="#6d6d6d"/><path d="M1288.5,578.5 L1289.1,572 Q1292.3,570 1295.5,572 L1296.1,578.5Z" fill="#f07c1c"/>
<path d="M1176.5,658 Q1161,658 1160,688.6" fill="none" stroke="#141414" stroke-width="2"/><rect x="1149" y="687.0" width="20" height="5.2" rx="2.6" fill="#1a1a1a"/><polygon points="1174.6,651 1181.4,651 1180.6,671 1178.6,693.6 1177.4,693.6 1175.4,671" fill="#161616"/><path d="M1171.8,652 Q1171.8,645 1175.5,643 L1180.5,643 Q1184.2,645 1184.2,652 Z" fill="#f07c1c"/><rect x="1175" y="638" width="6" height="5.5" fill="#6d6d6d"/><path d="M1174.2,638.5 L1174.8,632 Q1178,630 1181.2,632 L1181.8,638.5Z" fill="#f07c1c"/>
<path d="M1233.1,658 Q1217.6,658 1216.6,688.6" fill="none" stroke="#141414" stroke-width="2"/><rect x="1205.6" y="687.0" width="20" height="5.2" rx="2.6" fill="#1a1a1a"/><polygon points="1231.1999999999998,651 1238.0,651 1237.1999999999998,671 1235.1999999999998,693.6 1234.0,693.6 1232.0,671" fill="#161616"/><path d="M1228.3999999999999,652 Q1228.3999999999999,645 1232.1,643 L1237.1,643 Q1240.8,645 1240.8,652 Z" fill="#f07c1c"/><rect x="1231.6" y="638" width="6" height="5.5" fill="#6d6d6d"/><path d="M1230.8,638.5 L1231.3999999999999,632 Q1234.6,630 1237.8,632 L1238.3999999999999,638.5Z" fill="#f07c1c"/>
<path d="M1285.0,658 Q1269.5,658 1268.5,688.6" fill="none" stroke="#141414" stroke-width="2"/><rect x="1257.5" y="687.0" width="20" height="5.2" rx="2.6" fill="#1a1a1a"/><polygon points="1283.1,651 1289.9,651 1289.1,671 1287.1,693.6 1285.9,693.6 1283.9,671" fill="#161616"/><path d="M1280.3,652 Q1280.3,645 1284.0,643 L1289.0,643 Q1292.7,645 1292.7,652 Z" fill="#f07c1c"/><rect x="1283.5" y="638" width="6" height="5.5" fill="#6d6d6d"/><path d="M1282.7,638.5 L1283.3,632 Q1286.5,630 1289.7,632 L1290.3,638.5Z" fill="#f07c1c"/>
<rect x="1299" y="625.4" width="8" height="4.8" rx="1.5" fill="#1a1a1a"/><rect x="1299" y="687.2" width="8" height="4.8" rx="1.5" fill="#1a1a1a"/>
<path d="M857.0,206.0 L766.8,118.6" stroke="#0b6cc2" stroke-width="3.1" stroke-dasharray="3 3.05" fill="none"/><path d="M778.5,121.7 L767.1,118.9 L770.3,130.2" stroke="#0b6cc2" stroke-width="3" fill="none" stroke-linecap="butt" stroke-linejoin="miter"/>
<path d="M888.0,192.0 L982.0,141.7" stroke="#0b6cc2" stroke-width="3.1" stroke-dasharray="3 3.05" fill="none"/><path d="M975.5,151.9 L981.7,141.9 L969.9,141.5" stroke="#0b6cc2" stroke-width="3" fill="none" stroke-linecap="butt" stroke-linejoin="miter"/>
<path d="M906.0,213.2 L1177.0,225.7" stroke="#0b6cc2" stroke-width="3.1" stroke-dasharray="3 3.05" fill="none"/><path d="M1166.2,231.1 L1176.6,225.7 L1166.7,219.3" stroke="#0b6cc2" stroke-width="3" fill="none" stroke-linecap="butt" stroke-linejoin="miter"/>
<path d="M893.0,369.7 L649.8,506.5" stroke="#0b6cc2" stroke-width="3.1" stroke-dasharray="3 3.05" fill="none"/><path d="M656.2,496.2 L650.2,506.3 L662.0,506.5" stroke="#0b6cc2" stroke-width="3" fill="none" stroke-linecap="butt" stroke-linejoin="miter"/>
<path d="M902.0,374.0 L867.1,606.1" stroke="#0b6cc2" stroke-width="3.1" stroke-dasharray="3 3.05" fill="none"/><path d="M862.8,594.8 L867.2,605.7 L874.5,596.5" stroke="#0b6cc2" stroke-width="3" fill="none" stroke-linecap="butt" stroke-linejoin="miter"/>
<path d="M945.0,390.7 L1130.5,551.7" stroke="#0b6cc2" stroke-width="3.1" stroke-dasharray="3 3.05" fill="none"/><path d="M1118.6,549.2 L1130.2,551.4 L1126.4,540.3" stroke="#0b6cc2" stroke-width="3" fill="none" stroke-linecap="butt" stroke-linejoin="miter"/>
<!--ART2-->
</svg>

<div id="ttl">方案设计</div>
<div id="sub">Specific design</div>
<div class="lg" id="lg1" style="left:1056px;top:38.1px;color:#fb0007;transform:scale(1.096,1.17);">OUR</div>
<div class="lg" id="lg2" style="left:1126.8px;top:38.1px;transform:scale(0.948,1.17);">SPEED</div>
<div class="lg" id="lg3" style="left:1221.7px;top:42.5px;transform:scale(1.032,1.031);">斯必得</div>

<div class="bx" style="left:278px;top:156px;width:117px;">智慧灌溉</div>
<div class="bx" style="left:55px;top:235px;width:133px;letter-spacing:0.7px;">小型气象站</div>
<div class="bx" style="left:283px;top:235px;width:117px;">云平台</div>
<div class="bx" style="left:517px;top:235px;width:117px;">联动</div>

<div class="bx" style="left:105px;top:291px;width:129px;">土壤温湿度</div>
<div class="bx" style="left:105px;top:347px;width:129px;">空气温湿度</div>
<div class="bx" style="left:105px;top:403px;width:129px;">光照度</div>
<div class="bx" style="left:105px;top:458px;width:129px;">降雨量</div>
<div class="bx" style="left:105px;top:511px;width:128px;">风速</div>
<div class="bx" style="left:105px;top:570px;width:128px;">风向</div>
<div class="bx" style="left:105px;top:630px;width:128px;"><span style="position:relative;top:-2px;left:2.2px;letter-spacing:0.4px;">PM2.5</span></div>

<div class="bx" style="left:319px;top:291px;width:118px;">自动上传</div>
<div class="bx" style="left:319px;top:347px;width:118px;">历史记录</div>
<div class="bx" style="left:319px;top:403px;width:118px;">数据分析</div>
<div class="bx" style="left:319px;top:458px;width:118px;">智能预警</div>
<div class="bx" style="left:319px;top:512px;width:118px;">统一管理</div>

<div class="bx" style="left:554px;top:291px;width:152px;">自动灌溉系统</div>

<div class="lb" style="left:716px;top:140.6px;">风向</div>
<div class="lb" style="left:1007px;top:175px;">风速</div>
<div class="lb" style="left:1171px;top:141.5px;">气象百叶箱</div>
<div class="lb" style="left:543px;top:613.8px;">雨量传感器</div>
<div class="lb" style="left:792.5px;top:720.6px;">土壤水分传感器</div>
<div class="lb" style="left:1145.5px;top:720.2px;">自动喷淋设备</div>
</body>
</html>
